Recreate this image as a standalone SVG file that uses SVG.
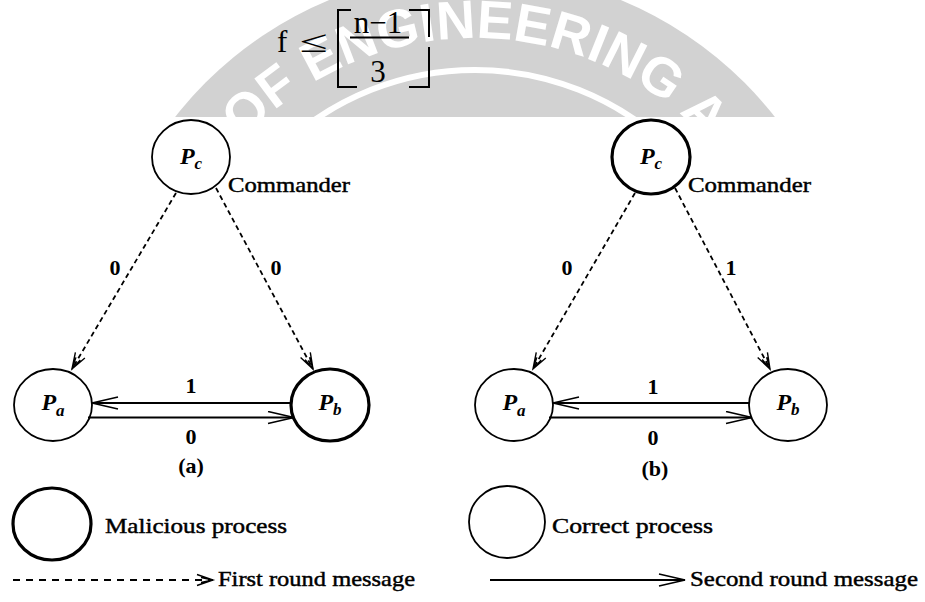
<svg xmlns="http://www.w3.org/2000/svg" width="925" height="602" viewBox="0 0 925 602">
<style>
.node{fill:#fff;stroke:#000;stroke-width:1.8}
.mal{stroke-width:3.2}
.dash{fill:none;stroke:#000;stroke-width:1.8;stroke-dasharray:5 3.5}
.ldash{fill:none;stroke:#000;stroke-width:1.8;stroke-dasharray:7 6}
.solid{fill:none;stroke:#000;stroke-width:2}
.t{font-size:22px;fill:#000;stroke:#000;stroke-width:0.45}
.num{font-size:22px;font-weight:bold;fill:#000;text-anchor:middle}
.p{font-style:italic;font-weight:bold;font-size:24px;fill:#000;text-anchor:middle}
.sub{font-size:17px}
.fm{font-size:31px;fill:#000}
.wm{font-weight:bold;font-size:54px;fill:#fff}
</style>
<defs>
<clipPath id="wmclip"><rect x="0" y="0" width="925" height="117"/></clipPath>
<path id="wmarc" d="M161,352 A314,314 0 0 1 789,352"/>
<marker id="ahS" markerUnits="userSpaceOnUse" markerWidth="30" markerHeight="16" refX="27" refY="7" orient="auto"><path d="M1,1 L27,7 L1,13" fill="none" stroke="#000" stroke-width="1.6"/></marker>
<marker id="ahD" markerUnits="userSpaceOnUse" markerWidth="20" markerHeight="16" refX="17" refY="7" orient="auto"><path d="M1,1.5 L17,7 L1,12.5 M5,4.5 L17,7 L5,9.5" fill="none" stroke="#000" stroke-width="1.4"/></marker>
</defs>
<rect x="0" y="0" width="925" height="602" fill="#fff"/>
<g id="watermark" clip-path="url(#wmclip)" font-family="Liberation Sans, Arial, sans-serif">
<circle cx="475" cy="352" r="381" fill="#d2d2d2"/>
<circle cx="475" cy="352" r="282" fill="none" stroke="#fff" stroke-width="6"/>
<text class="wm"><textPath href="#wmarc" startOffset="50%" text-anchor="middle">OF ENGINEERING A</textPath></text>
</g>
<g font-family="Liberation Serif, Times New Roman, serif">
<g id="formula">
<text class="fm" x="277" y="52">f</text>
<text class="fm" x="300" y="52" font-size="36" textLength="28" lengthAdjust="spacingAndGlyphs">≤</text>
<path d="M351,10 H338 V87 H357" fill="none" stroke="#000" stroke-width="2"/>
<path d="M409,10 H429 V37 M429,47 V87 H409" fill="none" stroke="#000" stroke-width="2"/>
<line x1="350" y1="37.5" x2="409" y2="37.5" stroke="#000" stroke-width="2"/>
<text class="fm" x="378" y="33" text-anchor="middle">n−1</text>
<text class="fm" x="378" y="82" text-anchor="middle">3</text>
</g>
<g id="nodeA_Pc"><ellipse class="node" cx="191" cy="157" rx="39" ry="37"/><text class="p" x="191" y="164">P<tspan class="sub" dy="5">c</tspan></text><text class="t" x="228" y="192" textLength="122" lengthAdjust="spacingAndGlyphs">Commander</text></g>
<g id="nodeA_Pa"><ellipse class="node" cx="53" cy="405" rx="39" ry="36"/><text class="p" x="53" y="410">P<tspan class="sub" dy="6">a</tspan></text></g>
<g id="nodeA_Pb"><ellipse class="node mal" cx="330" cy="405" rx="39" ry="36"/><text class="p" x="330" y="410">P<tspan class="sub" dy="5">b</tspan></text></g>
<g id="nodeB_Pc"><ellipse class="node mal" cx="651" cy="157" rx="39" ry="37"/><text class="p" x="651" y="164">P<tspan class="sub" dy="5">c</tspan></text><text class="t" x="688" y="192" textLength="123" lengthAdjust="spacingAndGlyphs">Commander</text></g>
<g id="nodeB_Pa"><ellipse class="node" cx="514" cy="405" rx="39" ry="36"/><text class="p" x="514" y="410">P<tspan class="sub" dy="6">a</tspan></text></g>
<g id="nodeB_Pb"><ellipse class="node" cx="788" cy="405" rx="39" ry="36"/><text class="p" x="788" y="410">P<tspan class="sub" dy="5">b</tspan></text></g>
<g id="connectors">
<line class="dash" x1="176" y1="193" x2="72" y2="369" marker-end="url(#ahD)"/>
<line class="dash" x1="216" y1="188" x2="313" y2="369" marker-end="url(#ahD)"/>
<line class="solid" x1="291" y1="403" x2="92" y2="403" marker-end="url(#ahS)"/>
<line class="solid" x1="88" y1="417.5" x2="294" y2="417.5" marker-end="url(#ahS)"/>
<line class="dash" x1="635" y1="193" x2="533" y2="369" marker-end="url(#ahD)"/>
<line class="dash" x1="675" y1="188" x2="770" y2="369" marker-end="url(#ahD)"/>
<line class="solid" x1="749" y1="403" x2="553" y2="403" marker-end="url(#ahS)"/>
<line class="solid" x1="549" y1="417.5" x2="752" y2="417.5" marker-end="url(#ahS)"/>
</g>
<g id="labels">
<text class="num" x="115" y="275">0</text>
<text class="num" x="276" y="275">0</text>
<text class="num" x="191" y="393">1</text>
<text class="num" x="191" y="444">0</text>
<text class="num" x="191" y="473">(a)</text>
<text class="num" x="567" y="275">0</text>
<text class="num" x="731" y="275">1</text>
<text class="num" x="653" y="394">1</text>
<text class="num" x="653" y="445">0</text>
<text class="num" x="655" y="476">(b)</text>
</g>
<g id="legend">
<ellipse class="node mal" cx="52" cy="524" rx="39" ry="36"/>
<text class="t" x="105" y="533" textLength="182" lengthAdjust="spacingAndGlyphs">Malicious process</text>
<ellipse class="node" cx="507" cy="522" rx="38" ry="36"/>
<text class="t" x="552" y="533" textLength="161" lengthAdjust="spacingAndGlyphs">Correct process</text>
<line class="ldash" x1="13" y1="580" x2="213" y2="580" marker-end="url(#ahD)"/>
<text class="t" x="218" y="586" textLength="197" lengthAdjust="spacingAndGlyphs">First round message</text>
<line class="solid" x1="490" y1="580" x2="685" y2="580" marker-end="url(#ahS)"/>
<text class="t" x="690" y="586" textLength="228" lengthAdjust="spacingAndGlyphs">Second round message</text>
</g>
</g>
</svg>
